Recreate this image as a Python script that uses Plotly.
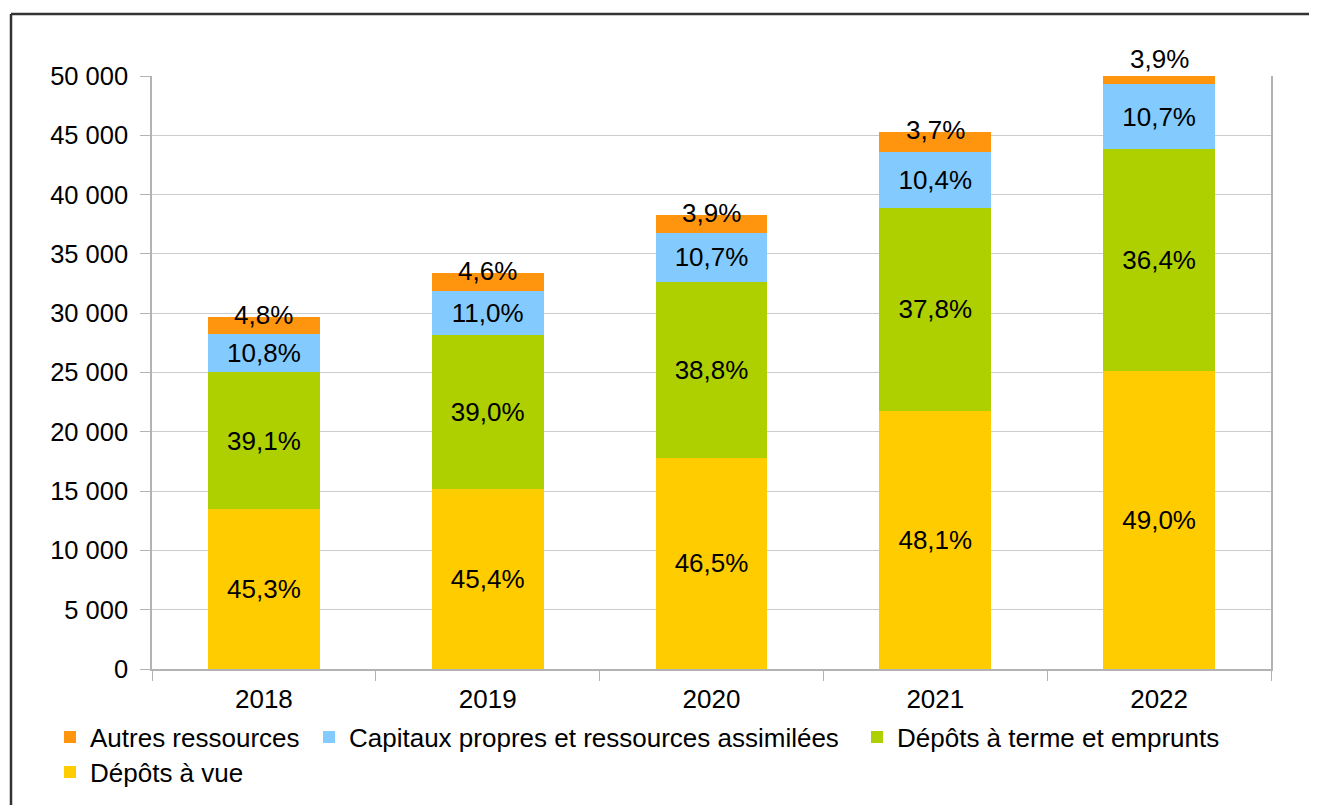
import plotly.graph_objects as go

years = ["2018", "2019", "2020", "2021", "2022"]

depots_vue = [13454, 15164, 17810, 21789, 25137]
depots_terme = [11613, 13026, 14860, 17123, 18673]
capitaux = [3208, 3674, 4098, 4711, 5489]
autres = [1426, 1536, 1494, 1676, 2001]

pct_vue = [45.3, 45.4, 46.5, 48.1, 49.0]
pct_terme = [39.1, 39.0, 38.8, 37.8, 36.4]
pct_capitaux = [10.8, 11.0, 10.7, 10.4, 10.7]
pct_autres = [4.8, 4.6, 3.9, 3.7, 3.9]

y_ticks = [0, 5000, 10000, 15000, 20000, 25000, 30000, 35000, 40000, 45000, 50000]
y_tick_labels = ["0", "5 000", "10 000", "15 000", "20 000", "25 000", "30 000",
                 "35 000", "40 000", "45 000", "50 000"]
Y_MAX = 50000

names = ["Dépôts à vue", "Dépôts à terme et emprunts",
         "Capitaux propres et ressources assimilées", "Autres ressources"]
colors = ["#ffcc00", "#aecf00", "#83caff", "#ff950e"]

FONT = "Liberation Sans, Arial, sans-serif"
FS = 26

# page body has an 8px margin: work in reference pixels and shift
OFF = 8
W, H = 1317 - OFF, 805 - OFF
L = 152 - OFF
R = W - (1271 - OFF)
T = 76 - OFF
B = H - (669 - OFF)
pw, ph = W - L - R, H - T - B


def px_x(p):
    return (p - OFF - L) / pw


def px_y(p):
    return (H - B - (p - OFF)) / ph


def fmt(p):
    return f"{p:.1f}%".replace(".", ",")


fig = go.Figure()
series = [(depots_vue, pct_vue, "legend4"), (depots_terme, pct_terme, "legend3"),
          (capitaux, pct_capitaux, "legend2"), (autres, pct_autres, "legend")]
for i, (vals, pcts, lg) in enumerate(series):
    is_top = (i == 3)
    fig.add_trace(go.Bar(
        x=years, y=vals, name=names[i],
        marker=dict(color=colors[i], line=dict(width=0)),
        text=None if is_top else [fmt(p) for p in pcts],
        textposition="none" if is_top else "inside",
        insidetextanchor="middle",
        textfont=dict(family=FONT, size=FS, color="black"),
        legend=lg,
    ))

totals = [a + b + c + d for a, b, c, d in zip(depots_vue, depots_terme, capitaux, autres)]
for idx, (tot, p) in enumerate(zip(totals, pct_autres)):
    fig.add_annotation(x=idx, y=tot / Y_MAX, text=fmt(p), showarrow=False, yshift=2,
                       xref="x", yref="paper", yanchor="middle",
                       font=dict(family=FONT, size=FS, color="black"))


def leg(xp, yp):
    return dict(orientation="h", x=px_x(xp), xanchor="left", y=px_y(yp), yanchor="middle",
                font=dict(family=FONT, size=FS, color="black"), bgcolor="rgba(0,0,0,0)")


fig.update_layout(
    width=W, height=H,
    barmode="stack", bargap=0.5,
    plot_bgcolor="white", paper_bgcolor="white",
    margin=dict(l=L, r=R, t=T, b=B, autoexpand=False),
    font=dict(family=FONT, size=FS, color="black"),
    uniformtext=dict(minsize=FS, mode="show"),
    showlegend=True,
    legend=leg(50, 737),
    legend2=leg(309, 737),
    legend3=leg(857, 737),
    legend4=leg(50, 772),
    xaxis=dict(type="category", range=[-0.5, 4.5], tickson="boundaries", ticks="outside",
               ticklen=10, tickcolor="#b3b3b3", showline=True, linecolor="#b3b3b3",
               linewidth=1.5, showgrid=False, ticklabelstandoff=6,
               tickfont=dict(family=FONT, size=FS, color="black")),
    yaxis=dict(range=[0, Y_MAX], tickvals=y_ticks, ticktext=y_tick_labels,
               ticks="outside", ticklen=10, tickcolor="#b3b3b3",
               showline=True, linecolor="#b3b3b3", linewidth=1.5, mirror=True,
               showgrid=True, gridcolor="#cccccc", gridwidth=1.2, zeroline=False,
               ticklabelstandoff=7,
               tickfont=dict(family=FONT, size=25.5, color="black")),
    shapes=[
        dict(type="line", xref="paper", yref="paper", x0=px_x(11), x1=px_x(1330),
             y0=px_y(14), y1=px_y(14), line=dict(color="#333333", width=2.5)),
        dict(type="line", xref="paper", yref="paper", x0=px_x(11), x1=px_x(11),
             y0=px_y(14), y1=px_y(830), line=dict(color="#333333", width=2.5)),
    ],
)

fig.write_html("out.html")
